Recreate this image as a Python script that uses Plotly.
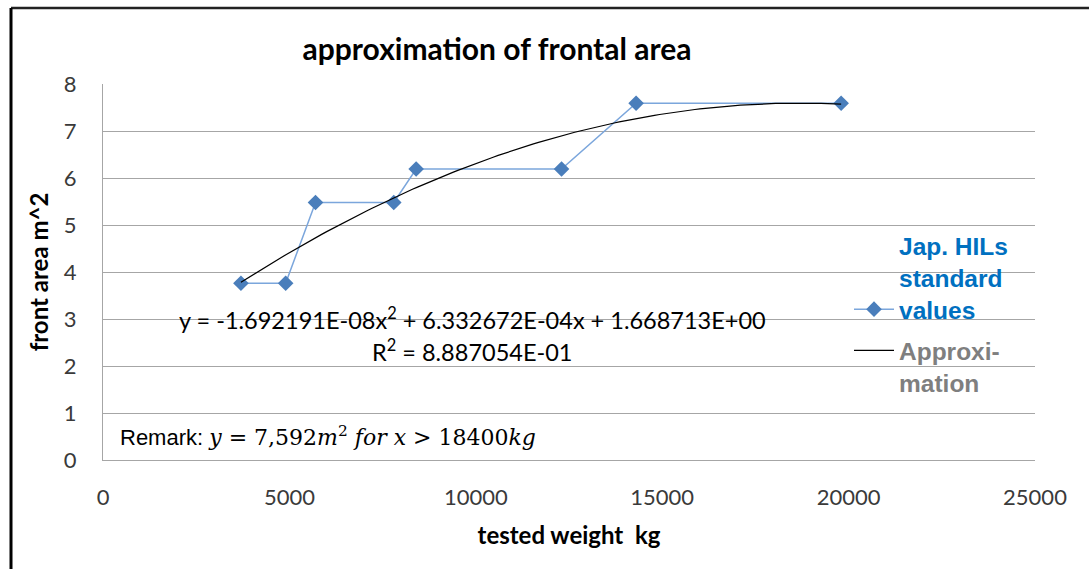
import numpy as np
import plotly.graph_objects as go

# ---- data ----
weights_kg = [3700, 4900, 5700, 7800, 8400, 12300, 14300, 19800]
front_area_m2 = [3.76, 3.76, 5.48, 5.48, 6.19, 6.19, 7.592, 7.592]
poly_coeffs = [-1.692191e-08, 6.332672e-04, 1.668713e+00]   # quadratic trend (a, b, c)
r_squared = "8.887054E-01"
x_ticks = [0, 5000, 10000, 15000, 20000, 25000]
x_tick_labels = ["0", "5000", "10000", "15000", "20000", "25000"]
y_ticks = [0, 1, 2, 3, 4, 5, 6, 7, 8]

series_name = "<b>Jap. HILs<br>standard<br>values</b>"
approx_name = "<b>Approxi-<br>mation</b>"

# trend curve evaluated from the displayed equation over the data range
x_fit = np.linspace(min(weights_kg), max(weights_kg), 120)
y_fit = np.polyval(poly_coeffs, x_fit)

W, H = 1089, 569
ML, MR, MT, MB = 103, 54, 84, 109
PW, PH = W - ML - MR, H - MT - MB


def px(xp):
    return (xp - ML) / PW


def py(yp):
    return (H - MB - yp) / PH


fig = go.Figure()
fig.add_trace(go.Scatter(
    x=weights_kg, y=front_area_m2, mode="lines+markers", name=series_name,
    line=dict(color="#7ba6dc", width=1.5),
    marker=dict(symbol="diamond", size=12, color="#4a7ebb"),
    legend="legend",
))
fig.add_trace(go.Scatter(
    x=x_fit, y=y_fit, mode="lines", name=approx_name,
    line=dict(color="#000000", width=1.2),
    legend="legend2",
))

grid_col = "#a6a6a6"
tick_font = dict(family="Lato", size=22, color="#3a3a3a")
axis_title_font = dict(family="Lato", size=24, color="#000000")

fig.update_layout(
    width=W, height=H,
    margin=dict(l=ML, r=MR, t=MT, b=MB),
    paper_bgcolor="white", plot_bgcolor="white",
    title=dict(text="<b>approximation of frontal area</b>",
               font=dict(family="Lato", size=30, color="#000000"),
               x=(497) / W, xanchor="center", y=1 - 49 / H, yanchor="middle"),
    xaxis=dict(range=[0, 25000], tickvals=x_ticks, ticktext=x_tick_labels,
               showgrid=False,
               zeroline=False, showline=True, linecolor=grid_col, linewidth=1,
               ticks="", tickfont=tick_font, ticklabelstandoff=18,
               title=dict(text="<b>tested weight  kg</b>", standoff=17,
                          font=axis_title_font)),
    yaxis=dict(range=[0, 8], tickvals=y_ticks, showgrid=True,
               gridcolor=grid_col, gridwidth=1, zeroline=False,
               showline=True, linecolor=grid_col, linewidth=1,
               ticks="", tickfont=tick_font, ticklabelstandoff=21,
               title=dict(text="<b>front area m^2</b>", standoff=8,
                          font=axis_title_font)),
    legend=dict(x=px(849), y=py(223), xanchor="left", yanchor="top",
                bgcolor="rgba(0,0,0,0)", borderwidth=0, valign="bottom",
                itemwidth=40,
                font=dict(family="Liberation Sans", size=24.5, color="#0070c0"),
                traceorder="normal"),
    legend2=dict(x=px(849), y=py(328), xanchor="left", yanchor="top",
                 bgcolor="rgba(0,0,0,0)", borderwidth=0, valign="top",
                 itemwidth=40,
                 font=dict(family="Liberation Sans", size=24.5, color="#7f7f7f")),
    showlegend=True,
)

# white area behind the legend text that hides the grid lines there
fig.add_shape(type="rect", xref="paper", yref="paper",
              x0=px(898), x1=1.0, y0=py(396), y1=py(234),
              fillcolor="white", line=dict(width=0), layer="between")

# outer frame (top and left edges)
fig.add_shape(type="line", xref="paper", yref="paper",
              x0=px(11), x1=px(1089), y0=py(8), y1=py(8),
              line=dict(color="#222222", width=2.5))
fig.add_shape(type="line", xref="paper", yref="paper",
              x0=px(11), x1=px(11), y0=py(8), y1=py(575),
              line=dict(color="#000000", width=3))

eq_font = dict(family="Lato", size=23.5, color="#000000")
a, b, c = poly_coeffs
eq_text = "y = {:.6E}x<sup>2</sup> + {:.6E}x + {:.6E}".format(a, b, c)
fig.add_annotation(text=eq_text, xref="paper", yref="paper",
                   x=px(472), y=py(318), xanchor="center", yanchor="middle",
                   showarrow=False, font=eq_font)
fig.add_annotation(text="R<sup>2</sup> = " + r_squared, xref="paper", yref="paper",
                   x=px(472), y=py(350), xanchor="center", yanchor="middle",
                   showarrow=False, font=eq_font)

serif = "font-family:'DejaVu Serif'"
remark = ("Remark: "
          f"<span style=\"{serif};font-style:italic\">y</span>"
          f"<span style=\"{serif}\"> = 7,592</span>"
          f"<span style=\"{serif};font-style:italic\">m</span>"
          f"<sup><span style=\"{serif}\">2</span></sup>"
          f"<span style=\"{serif};font-style:italic\"> for x </span>"
          f"<span style=\"{serif}\">&gt; 18400</span>"
          f"<span style=\"{serif};font-style:italic\">kg</span>")
fig.add_annotation(text=remark, xref="paper", yref="paper",
                   x=px(118), y=py(436), xanchor="left", yanchor="middle",
                   showarrow=False,
                   font=dict(family="Liberation Sans", size=22, color="#000000"))

fig.write_html("out.html", config={"displayModeBar": False},
               post_script="document.body.style.margin='0';")
